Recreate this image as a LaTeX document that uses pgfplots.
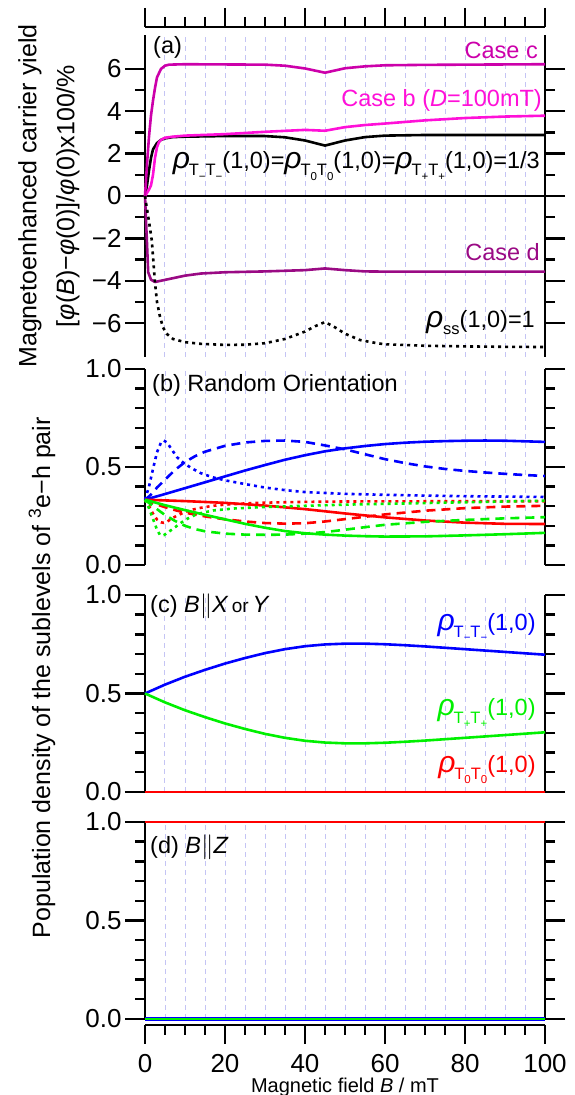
\documentclass[border=0pt]{standalone}
\usepackage{fontspec}
\setmainfont{Liberation Sans}
\usepackage{pgfplots}
\pgfplotsset{compat=1.18}
\definecolor{casec}{HTML}{CC00AA}
\definecolor{caseb}{HTML}{FF10D8}
\definecolor{cased}{HTML}{9A0A84}
\definecolor{gridc}{HTML}{C4C4F4}
\definecolor{gn}{HTML}{00F000}
\newcommand\tf{\fontsize{26}{31}\selectfont}
\newcommand\lf{\fontsize{23.5}{28}\selectfont}
\newcommand\rhosub[2]{{\fontsize{30}{30}\selectfont\itshape ρ}\kern-0.05em\raisebox{-0.3em}{\fontsize{16.5}{16.5}\selectfont T\raisebox{-0.28em}{\fontsize{11.5}{11.5}\selectfont #1}T\raisebox{-0.28em}{\fontsize{11.5}{11.5}\selectfont #2}}}
\pgfplotsset{
 panel/.style={
  scale only axis, width=400pt, xmin=0, xmax=100, clip=false,
  separate axis lines,
  axis line style={line width=2.4pt, black},
  x axis line style={draw=none},
  xtick={0,5,...,100}, xticklabels={},
  xtick style={draw=none},
  xmajorgrids, major x grid style={dash pattern=on 5pt off 4pt, gridc, line width=1pt},
  tick align=outside, ytick pos=both, yticklabel pos=left,
  major tick length=20pt, minor tick length=10pt,
  ytick style={line width=2.4pt, black},
  yticklabel style={font=\tf},
  every axis plot/.append style={line width=2.6pt, line join=round},
 },
 xaxis/.style={
  scale only axis, width=400pt, height=1pt, xmin=0, xmax=100, ymin=0, ymax=1,
  axis y line=none, clip=false,
  xtick={0,20,...,100}, minor x tick num=3,
  tick align=outside, major tick length=19pt, minor tick length=10pt,
  axis line style={line width=2.4pt, black}, xtick style={line width=2.4pt, black},
 },
 dsh/.style={dash pattern=on 9pt off 6pt},
 dtt/.style={dash pattern=on 3pt off 4pt},
}
\begin{document}
\begin{tikzpicture}
% top x axis
\begin{axis}[xaxis, axis x line*=top, at={(145pt,1068pt)}, anchor=north west, xticklabels={}]
\end{axis}
% bottom x axis
\begin{axis}[xaxis, axis x line*=bottom, at={(145pt,70pt)}, anchor=south west,
  xticklabels={0,20,40,60,80,100}, xticklabel style={font=\tf, inner sep=1pt, yshift=-9pt}]
\node[anchor=base, inner sep=0pt, font=\fontsize{20}{24}\selectfont, yshift=-67pt] at (axis description cs:0.5,0) {Magnetic field {\itshape B} / mT};
\end{axis}
% panel (a)
\begin{axis}[panel, height=322pt, at={(145pt,738pt)}, anchor=south west,
  ymin=-7.6, ymax=7.6, ytick={-6,-4,...,6}, yticklabels={−6,−4,−2,0,2,4,6}, minor y tick num=1,
  ylabel={Magnetoenhanced carrier yield\\ {[}{\itshape φ}({\itshape B})−{\itshape φ}(0){]}/{\itshape φ}(0)x100/\%},
  ylabel style={at={(axis description cs:-0.24,0.5)}, anchor=center, align=center, font=\fontsize{25}{38}\selectfont}]
\addplot[black, line width=2.4pt] coordinates {(0,0)(100,0)};
\addplot[black] coordinates {(0,0)(0.5,0.5)(1,1.2)(1.5,1.8)(2,2.2)(3,2.5)(4,2.65)(5,2.72)(7,2.78)(10,2.8)(20,2.83)(30,2.83)(35,2.77)(40,2.62)(45,2.38)(50,2.62)(55,2.78)(60,2.85)(70,2.88)(80,2.88)(100,2.88)};
\addplot[caseb] coordinates {(0,0)(1,0.3)(1.5,0.5)(2,1.0)(2.5,1.8)(3,2.3)(3.5,2.55)(4,2.65)(5,2.75)(7,2.8)(10,2.85)(20,2.92)(30,3.03)(40,3.12)(45,3.08)(50,3.25)(55,3.35)(60,3.42)(70,3.57)(80,3.68)(90,3.75)(100,3.79)};
\addplot[casec] coordinates {(0,0)(0.5,1.5)(1,2.8)(1.5,3.8)(2,4.5)(2.5,5.1)(3,5.6)(4,6.0)(5,6.15)(6,6.2)(10,6.22)(20,6.21)(30,6.2)(35,6.15)(40,6.02)(45,5.82)(50,6.03)(55,6.12)(60,6.17)(70,6.19)(80,6.2)(90,6.21)(100,6.22)};
\addplot[cased] coordinates {(0,0)(0.4,-1.8)(0.8,-3.6)(1.5,-3.95)(2.5,-4.06)(4,-4.0)(7,-3.88)(10,-3.76)(14,-3.66)(20,-3.6)(30,-3.56)(40,-3.5)(45,-3.42)(50,-3.5)(55,-3.56)(60,-3.57)(100,-3.57)};
\addplot[black, dtt] coordinates {(0,0)(0.4,-0.5)(1,-1.2)(1.7,-2.1)(2.5,-4.1)(3,-5.0)(3.75,-5.7)(4.5,-6.2)(5.4,-6.5)(7,-6.75)(10,-6.9)(14,-6.98)(20,-7.03)(25,-7.02)(30,-6.95)(35,-6.75)(40,-6.4)(42.5,-6.15)(45,-5.95)(47.5,-6.2)(50,-6.5)(53.75,-6.8)(58,-6.95)(60,-7.0)(70,-7.07)(80,-7.1)(90,-7.12)(100,-7.13)};
\node[anchor=west, font=\lf, inner sep=0pt] at (axis description cs:0.02,0.96) {(a)};
\node[anchor=east, font=\lf, text=casec, inner sep=0pt] at (axis description cs:0.9825,0.953) {Case c};
\node[anchor=east, font=\lf, text=caseb, inner sep=0pt] at (axis description cs:0.9925,0.798) {Case b ({\itshape D}=100mT)};
\node[anchor=east, font=\lf, text=cased, inner sep=0pt] at (axis description cs:0.9875,0.326) {Case d};
\node[anchor=base east, font=\lf, inner sep=0pt] at (axis description cs:0.9875,0.584) {\rhosub{−}{−}(1,0)=\rhosub{0}{0}(1,0)=\rhosub{+}{+}(1,0)=1/3};
\node[anchor=base east, font=\lf, inner sep=0pt] at (axis description cs:0.975,0.093) {{\fontsize{30}{30}\selectfont\itshape ρ}\raisebox{-0.3em}{\fontsize{16.5}{16.5}\selectfont ss}(1,0)=1};
\end{axis}
% panel (b)
\begin{axis}[panel, height=196pt, at={(145pt,530pt)}, anchor=south west,
  ymin=0, ymax=1, ytick={0,0.5,1}, yticklabels={0.0,0.5,1.0}, minor y tick num=4]
\addplot[blue] coordinates {(0,0.333)(5,0.362)(10,0.392)(15,0.422)(20,0.452)(25,0.482)(30,0.51)(35,0.537)(40,0.56)(45,0.58)(50,0.595)(55,0.607)(60,0.617)(65,0.624)(70,0.629)(75,0.632)(80,0.634)(85,0.635)(90,0.634)(95,0.631)(100,0.628)};
\addplot[blue, dsh] coordinates {(0,0.333)(1,0.35)(2,0.37)(3,0.395)(5,0.435)(7.5,0.485)(10,0.525)(12.5,0.555)(15,0.578)(20,0.608)(25,0.625)(30,0.633)(35,0.635)(40,0.628)(45,0.61)(50,0.59)(55,0.565)(60,0.54)(65,0.52)(70,0.503)(75,0.49)(80,0.48)(85,0.472)(90,0.465)(95,0.459)(100,0.454)};
\addplot[blue, dtt] coordinates {(0,0.333)(1,0.40)(2,0.49)(3,0.575)(4,0.625)(4.7,0.635)(5.5,0.625)(6.5,0.595)(8,0.55)(10,0.515)(12,0.49)(14,0.468)(17,0.447)(20,0.432)(25,0.413)(30,0.395)(35,0.382)(40,0.372)(50,0.363)(60,0.358)(70,0.354)(80,0.351)(90,0.349)(100,0.347)};
\addplot[red] coordinates {(0,0.333)(10,0.326)(20,0.317)(30,0.303)(40,0.285)(50,0.263)(60,0.243)(70,0.227)(80,0.216)(90,0.21)(100,0.209)};
\addplot[red, dsh] coordinates {(0,0.333)(2,0.315)(5,0.295)(7.5,0.28)(10,0.267)(15,0.248)(20,0.233)(25,0.222)(30,0.214)(35,0.211)(40,0.213)(45,0.222)(50,0.234)(55,0.246)(60,0.258)(70,0.277)(80,0.29)(90,0.298)(100,0.302)};
\addplot[red, dtt] coordinates {(0,0.333)(1,0.3)(2,0.262)(3,0.232)(4,0.218)(4.7,0.215)(5.5,0.22)(6.5,0.235)(8,0.252)(10,0.27)(12,0.283)(14,0.292)(17,0.302)(20,0.308)(25,0.314)(30,0.318)(40,0.322)(50,0.324)(70,0.325)(100,0.325)};
\addplot[gn] coordinates {(0,0.333)(5,0.305)(10,0.28)(15,0.256)(20,0.233)(25,0.21)(30,0.19)(35,0.173)(40,0.162)(45,0.155)(50,0.15)(55,0.147)(60,0.145)(70,0.146)(80,0.151)(90,0.157)(100,0.164)};
\addplot[gn, dsh] coordinates {(0,0.333)(2,0.3)(5,0.255)(7.5,0.225)(10,0.2)(12.5,0.183)(15,0.172)(20,0.16)(25,0.155)(30,0.154)(35,0.155)(40,0.16)(45,0.168)(50,0.18)(55,0.193)(60,0.205)(70,0.22)(80,0.23)(90,0.238)(100,0.244)};
\addplot[gn, dtt] coordinates {(0,0.333)(1,0.29)(2,0.235)(3,0.18)(3.75,0.153)(4.7,0.152)(6,0.17)(8,0.2)(10,0.23)(13,0.26)(17,0.278)(22,0.288)(30,0.296)(40,0.302)(50,0.308)(60,0.312)(70,0.316)(80,0.32)(90,0.324)(100,0.328)};
\node[anchor=west, font=\lf, inner sep=0pt] at (axis description cs:0.0175,0.918) {(b) Random Orientation};
\end{axis}
% panel (c)
\begin{axis}[panel, height=197pt, at={(145pt,303pt)}, anchor=south west,
  ymin=0, ymax=1, ytick={0,0.5,1}, yticklabels={0.0,0.5,1.0}, minor y tick num=4,
  ylabel={Population density of the sublevels of \textsuperscript{3}e−h pair},
  ylabel style={at={(axis description cs:-0.2575,0.58)}, anchor=center, font=\fontsize{25}{30}\selectfont}]
\addplot[red] coordinates {(0,0)(100,0)};
\addplot[blue] coordinates {(0,0.5)(5,0.545)(10,0.585)(15,0.62)(20,0.652)(25,0.68)(30,0.705)(35,0.725)(40,0.74)(45,0.749)(50,0.753)(55,0.753)(60,0.75)(65,0.745)(70,0.739)(75,0.732)(80,0.725)(85,0.718)(90,0.711)(95,0.704)(100,0.697)};
\addplot[gn] coordinates {(0,0.5)(5,0.455)(10,0.415)(15,0.38)(20,0.348)(25,0.32)(30,0.295)(35,0.275)(40,0.26)(45,0.251)(50,0.247)(55,0.247)(60,0.25)(65,0.255)(70,0.261)(75,0.268)(80,0.275)(85,0.282)(90,0.289)(95,0.296)(100,0.303)};
\node[anchor=west, font=\lf, inner sep=0pt] at (axis description cs:0.0125,0.944) {(c) {\itshape B}$\|${\itshape X}\,{\fontsize{19}{19}\selectfont or}\,{\itshape Y}};
\node[anchor=base east, font=\lf, text=blue, inner sep=0pt] at (axis description cs:0.977,0.822) {\rhosub{−}{−}(1,0)};
\node[anchor=base east, font=\lf, text=gn, inner sep=0pt] at (axis description cs:0.977,0.386) {\rhosub{+}{+}(1,0)};
\node[anchor=base east, font=\lf, text=red, inner sep=0pt] at (axis description cs:0.977,0.10) {\rhosub{0}{0}(1,0)};
\end{axis}
% panel (d)
\begin{axis}[panel, height=197pt, at={(145pt,76pt)}, anchor=south west,
  ymin=0, ymax=1, ytick={0,0.5,1}, yticklabels={0.0,0.5,1.0}, minor y tick num=4]
\addplot[red] coordinates {(0,1)(100,1)};
\addplot[blue, line width=4.6pt] coordinates {(0,0)(100,0)};
\addplot[gn] coordinates {(0,0)(100,0)};
\node[anchor=west, font=\lf, inner sep=0pt] at (axis description cs:0.0125,0.873) {(d) {\itshape B}$\|${\itshape Z}};
\end{axis}
\pgfresetboundingbox
\useasboundingbox (0,0) rectangle (574pt,1095pt);
\end{tikzpicture}
\end{document}
